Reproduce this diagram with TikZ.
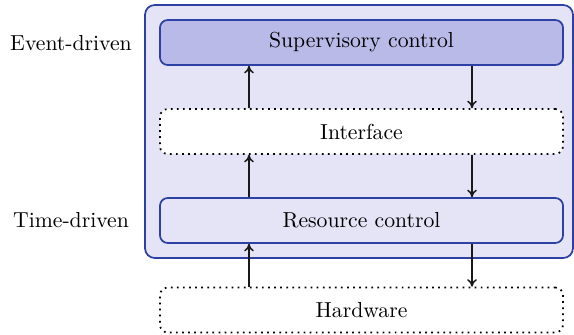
\documentclass[tikz,border=0pt]{standalone}
\usetikzlibrary{arrows.meta}
\definecolor{outerfill}{RGB}{228,228,246}
\definecolor{supfill}{RGB}{186,186,232}
\definecolor{bordblue}{RGB}{45,65,165}
\begin{document}
\begin{tikzpicture}[x=0.4608pt,y=-0.4608pt,
  solidbox/.style={draw=bordblue, line width=0.8pt, rounded corners=3.5pt, minimum width=185.7pt, minimum height=20.7pt, inner sep=0pt},
  dotbox/.style={draw=black, dotted, line width=0.8pt, fill=white, rounded corners=3.5pt, minimum width=185.7pt, minimum height=20.7pt, inner sep=0pt},
  arr/.style={-{To[length=3.5pt,width=4.5pt]}, line width=0.7pt, black!90},
  lbl/.style={inner sep=0pt}]
\useasboundingbox (0,0) rectangle (574,335);
\node[draw=bordblue, fill=outerfill, line width=0.8pt, rounded corners=4.5pt, minimum width=197.2pt, minimum height=116.6pt, inner sep=0pt] (frame) at (359,131.5) {};
\node[solidbox, fill=supfill] (sup) at (361.5,42.5) {Supervisory control};
\node[dotbox] (int) at (361.5,131.5) {Interface};
\node[solidbox, fill=outerfill] (res) at (361.5,220.5) {Resource control};
\node[dotbox] (hw) at (361.5,310) {Hardware};
\node[lbl] (ev) at (71,43) {Event-driven};
\node[lbl] (td) at (71,220) {Time-driven};
\coordinate (la) at (249,0);
\coordinate (ra) at (472,0);
\draw[arr] (int.north -| la) -- (sup.south -| la);
\draw[arr] (sup.south -| ra) -- (int.north -| ra);
\draw[arr] (res.north -| la) -- (int.south -| la);
\draw[arr] (int.south -| ra) -- (res.north -| ra);
\draw[arr] (hw.north -| la) -- (res.south -| la);
\draw[arr] (res.south -| ra) -- (hw.north -| ra);
\end{tikzpicture}
\end{document}
